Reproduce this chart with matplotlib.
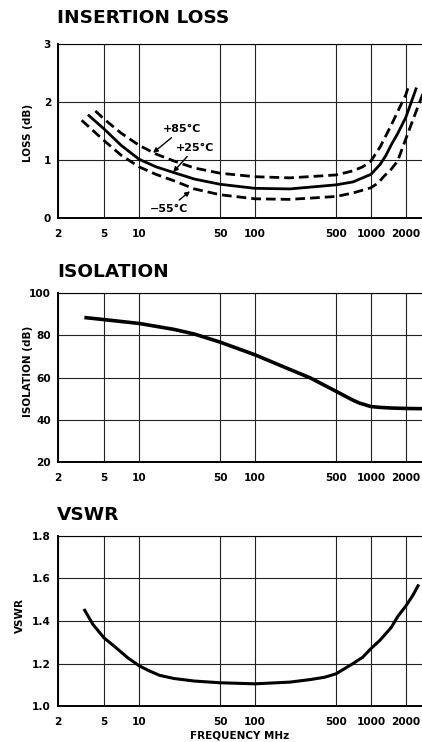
import numpy as np
import matplotlib
matplotlib.use('Agg')
from matplotlib import pyplot as plt

# insertion loss, three temperatures
freq_85 = [4.2, 5, 7, 10, 14, 20, 30, 50, 100, 200, 500, 700, 850, 1000, 1200, 1500, 2000, 2100]
loss_85 = [1.84, 1.70, 1.46, 1.25, 1.10, 0.98, 0.86, 0.77, 0.71, 0.69, 0.74, 0.81, 0.88, 0.98, 1.22, 1.60, 2.12, 2.25]

freq_25 = [3.7, 5, 7, 10, 14, 20, 30, 50, 100, 200, 500, 700, 1000, 1200, 1350, 1500, 1700, 2000, 2450]
loss_25 = [1.76, 1.53, 1.25, 1.01, 0.88, 0.78, 0.67, 0.58, 0.51, 0.50, 0.57, 0.62, 0.75, 0.92, 1.08, 1.26, 1.45, 1.73, 2.22]

freq_m55 = [3.2, 5, 7, 10, 14, 20, 30, 50, 100, 200, 500, 700, 1000, 1150, 1300, 1500, 1700, 2000, 2400, 2850]
loss_m55 = [1.68, 1.33, 1.08, 0.88, 0.75, 0.64, 0.50, 0.40, 0.33, 0.32, 0.37, 0.43, 0.52, 0.60, 0.72, 0.84, 0.98, 1.36, 1.78, 2.17]

# isolation
freq_iso = [3.5, 5, 10, 20, 30, 50, 100, 200, 300, 500, 700, 800, 1000, 1200, 1500, 2000, 2700]
isolation = [88.2, 87.3, 85.5, 82.7, 80.5, 76.7, 70.7, 63.8, 59.8, 53.5, 49.3, 47.9, 46.3, 45.9, 45.6, 45.4, 45.3]

# vswr
freq_vswr = [3.4, 4, 5, 6, 7, 8, 10, 12, 15, 20, 30, 50, 100, 200, 300, 400, 500, 700, 850, 1000,
             1200, 1500, 1700, 2000, 2300, 2550]
vswr = [1.45, 1.384, 1.32, 1.285, 1.254, 1.227, 1.19, 1.168, 1.145, 1.13, 1.118, 1.11, 1.105, 1.113,
        1.125, 1.136, 1.152, 1.20, 1.23, 1.27, 1.31, 1.37, 1.42, 1.47, 1.52, 1.565]

x_ticks = [2, 5, 10, 50, 100, 500, 1000, 2000]
x_labels = ['2', '5', '10', '50', '100', '500', '1000', '2000']

plt.rcParams['font.family'] = 'DejaVu Sans'
plt.rcParams['font.weight'] = 'bold'

W, H = 422, 742
fig = plt.figure(figsize=(W / 100, H / 100), dpi=100)


def make_axes(top_px, bottom_px):
    ax = fig.add_axes([58 / W, 1 - bottom_px / H, 1 - 58 / W + 0.01, (bottom_px - top_px) / H])
    ax.set_xscale('log')
    ax.set_xlim(2, 3000)
    ax.set_xticks(x_ticks)
    ax.minorticks_off()
    ax.tick_params(length=0, labelsize=7.6, colors='black')
    ax.tick_params(axis='x', pad=8)
    ax.tick_params(axis='y', pad=5)
    ax.grid(True, color='#222222', lw=0.8)
    ax.set_axisbelow(True)
    for s in ['left', 'bottom']:
        ax.spines[s].set_linewidth(1.4)
    ax.spines['top'].set_linewidth(0.8)
    ax.spines['right'].set_visible(False)
    return ax


# INSERTION LOSS
ax1 = make_axes(43.5, 218)
ax1.plot(freq_85, loss_85, color='black', lw=2.0, dashes=(3.5, 1.8))
ax1.plot(freq_25, loss_25, color='black', lw=2.0)
ax1.plot(freq_m55, loss_m55, color='black', lw=2.0, dashes=(3.5, 1.8))
ax1.set_ylim(0, 3)
ax1.set_yticks([0, 1, 2, 3])
ax1.set_yticklabels(['0', '1', '2', '3'], fontweight='bold')
ax1.set_xticklabels(x_labels, fontweight='bold')
arrow = dict(arrowstyle='-|>', color='black', lw=1.0, mutation_scale=7, shrinkA=1, shrinkB=0)
ax1.annotate('+85°C', xy=(13.2, 1.12), xytext=(23.5, 1.53), ha='center', va='center',
             fontsize=8, fontweight='bold', arrowprops=arrow)
ax1.annotate('+25°C', xy=(19.7, 0.79), xytext=(30.5, 1.21), ha='center', va='center',
             fontsize=8, fontweight='bold', arrowprops=arrow)
ax1.annotate('\u221255°C', xy=(27.5, 0.46), xytext=(18.0, 0.16), ha='center', va='center',
             fontsize=8, fontweight='bold', arrowprops=arrow)

# ISOLATION
ax2 = make_axes(292.7, 462.3)
ax2.plot(freq_iso, isolation, color='black', lw=2.6)
ax2.set_ylim(20, 100)
ax2.set_yticks([20, 40, 60, 80, 100])
ax2.set_yticklabels(['20', '40', '60', '80', '100'], fontweight='bold')
ax2.set_xticklabels(x_labels, fontweight='bold')

# VSWR
ax3 = make_axes(535.7, 706.2)
ax3.plot(freq_vswr, vswr, color='black', lw=2.2)
ax3.set_ylim(1.0, 1.8)
ax3.set_yticks([1.0, 1.2, 1.4, 1.6, 1.8])
ax3.set_yticklabels(['1.0', '1.2', '1.4', '1.6', '1.8'], fontweight='bold')
ax3.set_xticklabels(x_labels, fontweight='bold')

# titles and axis labels
fig.text(57 / W, 1 - 18 / H, 'INSERTION LOSS', fontsize=13.3, fontweight='bold', va='center')
fig.text(57 / W, 1 - 271.7 / H, 'ISOLATION', fontsize=13.3, fontweight='bold', va='center')
fig.text(57 / W, 1 - 515 / H, 'VSWR', fontsize=13.3, fontweight='bold', va='center')
fig.text(28 / W, 1 - 132.7 / H, 'LOSS (dB)', rotation=90, fontsize=7.5, fontweight='bold',
         ha='center', va='center')
fig.text(28 / W, 1 - 371.7 / H, 'ISOLATION (dB)', rotation=90, fontsize=7.5, fontweight='bold',
         ha='center', va='center')
fig.text(20 / W, 1 - 615.7 / H, 'VSWR', rotation=90, fontsize=7.5, fontweight='bold',
         ha='center', va='center')
fig.text(240 / W, 1 - 735 / H, 'FREQUENCY MHz', fontsize=7.5, fontweight='bold',
         ha='center', va='center')

fig.savefig('out.png', dpi=100, facecolor='white')
